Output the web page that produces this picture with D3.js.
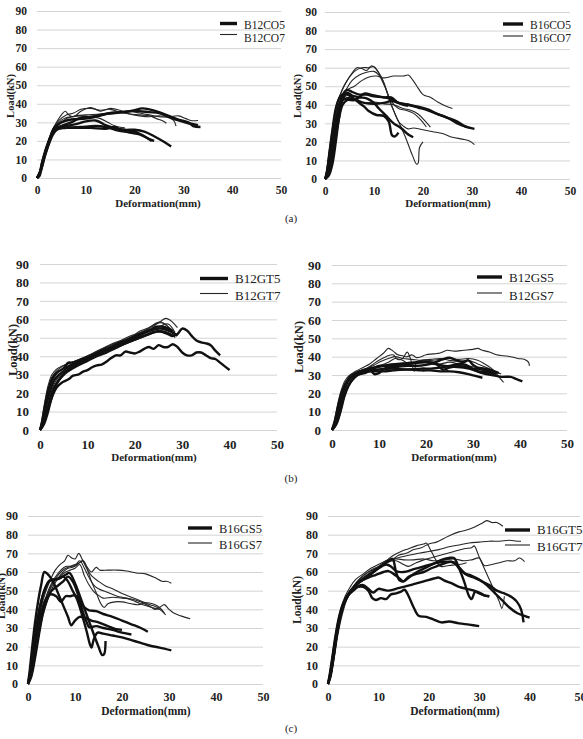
<!DOCTYPE html>
<html>
<head>
<meta charset="utf-8">
<script src="https://cdn.jsdelivr.net/npm/d3@7"></script>
<style>
  body { margin: 0; background: #fff; }
  svg { display: block; }
  text { font-family: "Liberation Serif", "Times New Roman", serif; fill: #222; }
</style>
</head>
<body>
<div id="fig"></div>
<script>
var xTicks = [0, 10, 20, 30, 40, 50];
var yTicks = [0, 10, 20, 30, 40, 50, 60, 70, 80, 90];
var captions = ["(a)", "(b)", "(c)"];

// (a) left : B12CO5 / B12CO7
var a1Names = ["B12CO5", "B12CO7"];
var a1Thick = [
  [[0,0],[0.6,3],[1.2,10],[2,17],[3,23],[4,26],[5,27],[8,27],[11,27],[14,26.5],[16,27.5],[17,26],[19,24.5],[21,23.5],[23,21],[24,20]],
  [[0,0],[0.5,2],[1,8],[2,16],[3,23],[4,27],[6,28],[8,29],[10,30.5],[12,31],[13,30],[14,28.5],[16,27],[18,26],[20,26],[22,25],[24,22.5],[26,19.5],[27.5,17]],
  [[0,0],[0.7,4],[1.5,12],[2.5,20],[3.5,27],[5,30],[7,31.5],[10,32],[12,33],[15,35],[18,35.5],[20,36.5],[21.5,37.5],[23,37],[25,35.5],[27,33.5],[29,31.5],[31,30],[32,28],[33.5,27.5]],
  [[0,0],[0.8,4],[1.6,12],[2.6,20],[3.5,26],[5,28],[7,30],[9,32.5],[11,33],[13,34],[16,35],[19,36],[21,36],[23,35.5],[25,35],[27,33],[29,31],[31,29.5],[33,28.5]],
  [[0,0],[0.5,1],[1,6],[2,15],[3,22],[4,26],[6,27],[9,27.5],[12,28],[14,27.5],[16,26],[18,25],[20,25],[22,22.5],[23.5,20]]
];
var a1Thin = [
  [[0,0],[0.5,3],[1.2,10],[2,18],[3,25],[4,30],[5,34],[5.8,36],[6.5,34],[7.5,33],[9,36],[11,38],[13,36],[15,37.5],[17,36.5],[19,34.5],[21,33.5],[23,33],[25,33.5],[27,33],[29,33.5],[30.5,32],[31.5,31],[33,31]],
  [[0,0],[0.6,3],[1.3,11],[2.2,19],[3.2,26],[4.5,31],[6,34],[7.5,35],[9,37],[11,37.5],[13,36.5],[15,37],[17,35.5],[19,34.5],[21,34],[23,33.5],[24.5,32],[26,30.5],[26.5,29.5]],
  [[0,0],[0.6,3],[1.3,10],[2.2,18],[3.2,25],[4.5,29],[6,32],[8,33.5],[10,34],[13,34.5],[16,35.5],[19,36],[21,35],[23,34],[25,33],[27,32.5],[28,31],[28.5,28]],
  [[0,0],[0.7,3],[1.5,11],[2.5,19],[3.5,26],[4.5,30],[5.5,32],[7,33],[9,33.5],[11,33],[13,32],[14.5,30],[16,28],[18,27]]
];

// (a) right : B16CO5 / B16CO7
var a2Names = ["B16CO5", "B16CO7"];
var a2Thick = [
  [[0,0],[0.5,3],[1,10],[1.8,22],[2.5,33],[3.2,42],[4,47],[4.5,48],[5.5,47],[7,45.5],[8.5,45.5],[10,44.5],[12,44],[13.5,43],[15,41],[17,40],[19,38.5],[21,37],[23,35],[25,33],[27,31],[28.5,28.5],[30.5,27]],
  [[0,0],[0.4,4],[0.9,14],[1.5,26],[2.2,38],[3,44],[4,46],[5,45],[6.5,42],[8,39],[9,36.5],[10.5,34.5],[12,34],[13,31],[13.7,23.5],[14.3,23],[15,25]],
  [[0,0],[0.8,2],[1.5,8],[2.2,20],[2.8,32],[3.5,42],[4.5,46.5],[5.5,45],[7,44],[8.5,43.5],[10,41],[11,38],[12.5,34],[14,30],[15.5,27.5],[17,24],[18,22.5]],
  [[0,0],[0.6,2],[1.2,9],[2,20],[2.8,32],[3.6,40],[4.5,42.5],[6,42.5],[7,44],[8,46],[10,45],[12,44],[13.5,44],[15,41],[17,40],[19,39],[21,37.5],[23,35],[25,33],[27,30],[29,28]],
  [[0,0],[0.5,3],[1,11],[1.7,23],[2.5,35],[3.3,42],[4.5,43.5],[6,43],[8,41],[10,40.5],[12,41],[13.5,42],[15,41],[16,40],[17,39.5]]
];
var a2Thin = [
  [[0,0],[0.4,6],[1,18],[1.8,32],[2.6,42],[3.5,48],[4.5,53],[5.5,57],[6.5,60],[7.5,59.5],[8.5,58.5],[9.5,61],[10.5,59],[11.5,55],[12.5,48],[13.5,40],[15,31],[16.5,22],[17.8,13],[18.7,8],[19,8.5],[19.3,17],[20,20]],
  [[0,0],[0.4,5],[1,16],[1.8,30],[2.6,41],[3.5,48],[4.5,53],[6,58],[7.5,60],[9,60],[10,60.5],[11,57],[12,52],[13,44],[14,37],[15,31],[16,28.5],[17,27],[18,27.5],[20,26.5],[22,25.5],[24,24.5],[26,22.5],[28,21.5],[29.5,20.5],[30.5,18.5]],
  [[0,0],[0.4,5],[1,16],[1.8,29],[2.6,39],[3.5,45],[4.5,48],[6,50],[7.5,53],[9,55],[10.5,55.5],[12,54.5],[14,55.5],[16,55.5],[17,56],[18,53],[19,49],[20,45.5],[21.5,44],[23,41.5],[24.5,39.5],[26,38]],
  [[0,0],[0.5,5],[1.1,15],[1.9,28],[2.7,38],[3.5,44],[4.5,49],[5.5,53],[7,56],[8.5,57.5],[10,58],[11,56],[12.5,48],[13.5,42],[15,38],[16.5,37],[18,35.5],[19.5,32],[20.7,28]],
  [[0,0],[0.5,4],[1.1,14],[1.9,27],[2.7,37],[3.5,43],[4.5,45],[6,43],[8,41],[10,41.5],[12,40.5],[14,40],[16,38],[17.5,37],[19,35],[20.5,31],[21.5,28]]
];

// (b) left : B12GT5 / B12GT7
var b1Names = ["B12GT5", "B12GT7"];
var b1Thick = [
  [[0,0],[0.6,3],[1.3,8],[2,14],[2.7,19],[3.5,23],[4.5,25.5],[6,27.5],[7,29.5],[8,30],[9,31.5],[10,32.5],[11,34],[12,35],[13,35.5],[14,37],[15,39],[16,40.5],[17,40.5],[18,42.5],[19,42],[20,41.5],[21,42.5],[22,44],[23,45],[24,44],[25,46],[26,45],[27,45],[28,46.5],[29,45],[30,42],[31,40.5],[32,40.5],[33,42],[34,42],[35,40.5],[36,39],[37,38.5],[38,36.5],[39,34.5],[40,32.5]],
  [[0,0],[0.5,4],[1.2,12],[2,20],[3,27],[4,30],[5,32],[6,34.5],[7,35.5],[8,37],[10,39],[12,41],[14,43],[16,45],[18,47],[20,49],[22,51],[23,52],[24,53],[25,53.5],[26,53],[27,52],[28,51],[29,52],[30,55],[31,54],[32,51],[33,48.5],[34,47.5],[35,47],[36,46],[37,43],[38,40.5]],
  [[0,0],[0.7,3],[1.5,10],[2.3,18],[3,23],[4,27],[5,30],[6,33],[8,36],[10,38.5],[12,41],[14,43.5],[16,45.5],[18,48],[20,50],[22,52.5],[24,54.5],[25.5,55],[27,54],[28.5,52],[29,51]],
  [[0,0],[0.5,5],[1.1,14],[1.8,22],[2.6,28],[3.5,31],[5,33.5],[6,36.5],[7,36.5],[9,38.5],[11,40.5],[13,43],[15,45],[17,47.5],[19,49.5],[21,52],[23,54],[24.5,56],[26,56],[27,55],[28,53.5]],
  [[0,0],[0.8,3],[1.6,9],[2.4,17],[3.3,24],[4.5,29],[6,32],[8,35],[10,37.5],[12,40],[14,42],[16,44.5],[18,47],[20,49],[22,51],[24,53],[25.5,53.5],[27,52.5],[28,51]]
];
var b1Thin = [
  [[0,0],[0.5,5],[1.1,14],[1.8,23],[2.6,29],[3.5,32],[5,35],[6.5,36.5],[8,38],[10,40],[12,42.5],[14,45],[16,47],[18,49],[20,51.5],[22,54],[24,56.5],[25.5,59],[26.5,60.5],[27.5,59.5],[28.5,57],[29,55.5]],
  [[0,0],[0.6,4],[1.3,13],[2,21],[2.9,28],[4,32],[5.5,34],[7,36],[9,38.5],[11,41],[13,43.5],[15,46],[17,48],[19,50],[21,53.5],[22.5,55],[24,57],[25,58],[26,58],[27,56],[28,52],[28.5,50]],
  [[0,0],[0.4,6],[1,15],[1.7,24],[2.5,30],[3.5,33],[5,35],[7,37],[9,39],[11,41.5],[13,44],[15,46.5],[17,48.5],[19,51],[21,52.5],[23,54],[24.5,55],[26,57],[27,57.5],[28,55],[28.5,52]],
  [[0,0],[0.7,4],[1.4,11],[2.2,19],[3,25],[4,29],[5.5,32],[7,34],[9,37],[11,40],[13,42.5],[15,45],[17,47],[19,49.5],[21,52],[23,55],[24.5,58],[25.5,58.5],[26.5,57],[27.5,55],[28.5,53]]
];

// (b) right : B12GS5 / B12GS7
var b2Names = ["B12GS5", "B12GS7"];
var b2Thick = [
  [[0,0],[0.7,4],[1.4,11],[2.2,19],[3,25],[4,28.5],[5,30.5],[6,32],[8,32.5],[10,33],[12,34],[14,34.5],[16,35],[18,35],[20,35.5],[22,37],[23.5,38.5],[25,39.5],[26.5,38],[28,37],[29,38],[30,35.5],[31,34],[32.5,33.5],[34,32.5],[35.5,31]],
  [[0,0],[0.8,3],[1.6,9],[2.4,17],[3.2,23],[4.2,27],[5.5,30],[7,31.5],[9,32],[11,32],[13,32.5],[15,33],[17,33],[19,32.5],[21,32.5],[23,32],[25,32],[27,31.5],[29,30.5],[30.5,29.5],[32,28.5]],
  [[0,0],[0.6,5],[1.3,13],[2,20],[3,26],[4,29],[5.5,30.5],[7,31],[8.5,33],[10,35],[12,35],[14,35.5],[16,36],[18,36.5],[20,37],[22,36],[24,35],[26,34.5],[28,34],[30,33],[32,31],[34,30],[36,29],[38,29],[39,28],[40.5,26.5]],
  [[0,0],[0.9,3],[1.8,10],[2.6,18],[3.5,24],[4.5,28],[5.5,30.5],[7,32.5],[8,33],[9,30.5],[10,31],[11,33],[13,33.5],[15,33],[17,33],[19,33.5],[21,33.5],[23,34],[25,35],[27,36],[28.5,35.5],[30,33.5],[32,33],[34,31.5],[35,30.5]],
  [[0,0],[0.7,4],[1.5,12],[2.3,20],[3.2,26],[4.5,30],[6,32],[8,33.5],[10,34.5],[12,35.5],[14,36],[16,36.5],[18,37],[20,37],[22,36.5],[23.5,33],[25,34],[27,35],[29,34],[31,32],[33,31.5],[34.5,30]]
];
var b2Thin = [
  [[0,0],[0.5,5],[1.2,14],[2,22],[2.8,27],[3.8,30],[5,32],[6.5,34],[8,36],[9.5,39],[11,42],[12,44.5],[13,43],[14,41],[15,40.5],[16,40],[17,41],[18,39.5],[19,40],[20,41],[21.5,41.5],[23,42],[24.5,43.5],[26,43],[28,43.5],[30,44],[31,44.5],[32,43.5],[33.5,42.5],[35,41],[36.5,40.5],[38,40],[39.5,39],[41,38.5],[41.8,37],[42,35]],
  [[0,0],[0.6,4],[1.3,12],[2.1,20],[3,26],[4,30],[5.5,32],[7,33],[8.5,35.5],[10,38],[11.5,40],[13,41],[14,38.5],[15,39],[16,42.5],[16.8,38],[17.5,32],[18,37],[19,38],[21,38.5],[23,39],[25,38],[27,37.5],[29,38],[31,36],[33,34],[34.5,32],[35.5,29],[36.5,26]],
  [[0,0],[0.8,3],[1.6,10],[2.4,18],[3.3,24],[4.3,28],[5.5,31],[7,33],[9,35.5],[10.5,37.5],[12,39],[13.5,40],[15,39],[17,38.5],[19,38],[21,38],[23,38.5],[25,39],[27,38.5],[29,39],[31,38],[32.5,36],[34,33.5],[35,31]],
  [[0,0],[0.5,4],[1.1,11],[1.9,19],[2.8,25],[3.8,29],[5,31],[6.5,33],[8,34],[10,35],[12,37],[13.5,39],[15,38],[16,36.5],[17,35],[19,35],[21,36],[23,36],[25,37],[27,36],[29,35],[31,34],[33,33],[35,31.5],[36,30.5]]
];

// (c) left : B16GS5 / B16GS7
var c1Names = ["B16GS5", "B16GS7"];
var c1Thick = [
  [[0,0],[0.4,8],[0.9,20],[1.5,33],[2.2,45],[2.8,53],[3.5,60],[4.5,58],[5.5,54],[6.5,48],[7.5,42],[8.5,36],[9.2,31.5],[10,34],[11,36],[12,35.5],[13.5,34],[15,33],[17,31],[18.5,29.5],[20,29]],
  [[0,0],[0.5,6],[1.1,18],[1.8,31],[2.6,42],[3.5,50],[4.5,55],[5.5,56],[6.5,56.5],[7.5,57.5],[8.5,55],[9.5,50],[10.5,45],[11.5,37],[12.5,28],[13.2,21],[13.5,19.5],[14,24],[14.8,27.5],[16,27],[18,26],[20,25],[22,23.5],[24,22],[26,20.5],[28,19.5],[30.5,18]],
  [[0,0],[0.6,5],[1.3,16],[2,28],[2.8,38],[3.7,45],[4.8,48],[6,47],[7,44],[8,47],[9,47],[10,47.5],[11,44.5],[12,41],[13,39.5],[14.5,39],[16,37.5],[18,36],[20,34],[22,32],[24,30],[25.5,28]],
  [[0,0],[0.5,7],[1.2,19],[1.9,32],[2.7,43],[3.6,51],[4.6,55.5],[6,56],[7,57],[8,58.5],[8.8,59.5],[10,54],[11.2,46],[12.5,37],[13.8,28],[15,20],[15.8,15.5],[16.2,16],[16.5,23]],
  [[0,0],[0.7,4],[1.5,14],[2.3,26],[3.1,37],[4,45],[5,50],[6,52],[7.5,55],[8.5,57.5],[9.5,55],[10.5,49],[11.5,40],[12.5,33],[13,30.5],[14.5,31],[16,30],[18,29],[20,27.5],[22,26.5]]
];
var c1Thin = [
  [[0,0],[0.5,6],[1.2,17],[2,30],[2.8,41],[3.7,49],[4.8,56],[5.8,61],[6.8,64],[7.8,66],[8.5,69],[9.3,67.5],[10,67],[10.8,70],[11.5,67],[12.5,62],[13.5,55],[14.5,49],[15.5,43],[16.2,41],[17,43],[18.5,44],[20,44],[22,43],[23.5,42.5],[25,43.5],[26.5,43],[28,41],[29,38]],
  [[0,0],[0.6,5],[1.3,16],[2.1,28],[3,39],[4,47],[5,53],[6,57],[7,60],[8,62],[9,63],[10,64],[11,65],[11.8,66],[12.5,63],[13.5,60],[14.5,62.5],[15.3,61],[17,61],[19,61],[21,60.5],[23,59.5],[25,59],[27,57],[28.5,55],[29.5,55],[30.5,54]],
  [[0,0],[0.7,4],[1.5,14],[2.3,26],[3.2,37],[4.2,45],[5.3,52],[6.5,57],[7.5,60],[8.5,62],[9.5,62.5],[10.5,64],[11.5,66],[12.5,62],[13.5,58],[15,55],[16.5,52.5],[18,51],[20,48.5],[22,46.5],[24,44.5],[26,42.5],[27.5,41],[28.5,39],[29.3,37]],
  [[0,0],[0.5,5],[1.2,15],[2,27],[2.9,38],[3.9,46],[5,52],[6,56],[7,58],[8,60],[9,61],[10,62],[11,64],[12,58],[13,53],[14,49.5],[15,47.5],[16,46],[18,46.5],[20,46],[22,45.5],[24,44],[26,41.5],[27,40],[28,41],[29,42.5],[30,40],[31,38],[32.5,36.5],[34.5,35]],
  [[0,0],[0.6,6],[1.4,18],[2.2,30],[3,40],[4,48],[5,54],[6,58],[7,61],[8,63],[9,63],[10,63.5],[11,66],[12,62],[13,57],[14,53],[15,51],[17,49],[19,47],[21,46],[23,44],[25,42],[27,40.5],[28,40]]
];

// (c) right : B16GT5 / B16GT7
var c2Names = ["B16GT5", "B16GT7"];
var c2Thick = [
  [[0,0],[0.4,6],[0.9,15],[1.5,26],[2.2,36],[3,43],[4,47.5],[5,50],[6,52],[7,52],[8,50],[8.8,46],[9.5,45],[10.5,46],[11.5,45.5],[12.5,48],[13.5,48.5],[14.5,49.5],[15.2,50.5],[16,47],[17,41],[18,36.5],[19.5,36],[21,34.5],[22.5,33],[24,33.5],[26,32.5],[28,31.8],[30,31]],
  [[0,0],[0.5,5],[1,14],[1.6,25],[2.3,35],[3.1,43],[4.1,48],[5,50.5],[6,52.5],[7,53],[8,51],[9,49],[10,51],[11,50.5],[12,50],[13.5,51],[15,52],[17,53.5],[19,55],[21,56.5],[22,57],[23,55.5],[24.5,54],[26,52],[27.5,51],[29,50],[30,48.5],[31,47.5],[32,47]],
  [[0,0],[0.5,4],[1.1,14],[1.7,26],[2.4,36],[3.2,44],[4.2,49],[5.2,52],[6.5,55],[8,57],[9.5,58.5],[11,60],[12,60.5],[13,59],[14,57],[15,55],[16,57.5],[17.5,59],[19,60],[20.5,62],[22,63.5],[23,64.5],[24.5,65.5],[25.5,64],[26.5,61],[27.5,58.5],[29,57],[30.5,55],[32,53],[33.5,50],[35,48.5],[36.5,46.5],[37.5,44],[38.3,40],[38.8,33]],
  [[0,0],[0.4,5],[0.9,13],[1.5,24],[2.2,34],[3,42],[4,47.5],[5,51.5],[6,54.5],[7,56],[8,58],[9,60],[10,62],[11,64],[12,66],[12.8,67],[13.5,60],[14.2,55.5],[15,55],[16.5,58],[18,60.5],[19.5,62.5],[21,64.5],[22.5,66.5],[24,67.5],[25,67.5],[26,62],[27,55],[28,47],[28.5,45.5],[29.2,49.5],[30,49],[31,47.5],[32,47]],
  [[0,0],[0.5,5],[1.1,15],[1.8,27],[2.5,37],[3.3,44],[4.3,49],[5.5,53],[7,56],[8.5,59],[10,62],[11.5,64],[12.5,63],[13.5,60.5],[15,60],[17,61.5],[19,63],[21,64.5],[23,65.5],[25,65],[26,62],[27,59.5],[28.5,58],[30,56],[31.5,53],[33,49],[34.5,45],[36,41],[37.5,38],[39,36.5],[40,35.5]]
];
var c2Thin = [
  [[0,0],[0.5,6],[1.1,16],[1.8,28],[2.6,38],[3.5,45],[4.5,50],[5.5,54],[6.5,57],[8,60],[9.5,62],[11,64],[12.5,66],[14,69],[15.5,70],[17,72],[18.5,73],[20,75],[21.5,76],[23,78],[24.5,80],[26,81.5],[27.5,82.5],[29,84],[30.5,86],[31.5,87.5],[32.5,86.5],[33.5,86.5],[34.7,84.5]],
  [[0,0],[0.6,5],[1.2,15],[1.9,27],[2.7,37],[3.6,45],[4.6,50],[5.6,54],[7,58],[8.5,61],[10,63],[11.5,66],[13,69],[14.5,71],[16,72.5],[17.5,74],[19,75],[19.5,75.5],[20.5,71],[21.5,66],[22.4,63],[24,63.5],[26,64],[27.5,65]],
  [[0,0],[0.4,7],[1,18],[1.7,30],[2.5,40],[3.4,47],[4.4,52],[5.5,56],[7,59],[8.5,62],[10,64],[11.5,66],[13,67],[14.5,68],[16,69],[18,70],[20,71],[22,72],[24,73.5],[26,74.5],[28,75.5],[30,76],[32,76.5],[34,76.5],[36,77],[37.5,76.5],[38.3,76.5]],
  [[0,0],[0.5,6],[1.2,17],[2,29],[2.8,39],[3.7,46],[4.7,51],[6,55],[7.5,58],[9,61],[10.5,63],[12,65.5],[13.5,66],[15,64],[16,63],[17.5,65],[19,66.5],[21,68],[23,69.5],[25,71],[27,72.5],[28.5,73],[29,74],[30,68],[31,62],[32,56],[33,50],[34,44],[34.5,40.5],[35,47]],
  [[0,0],[0.6,5],[1.3,15],[2,27],[2.8,37],[3.7,45],[4.7,50],[6,54],[7.5,58],[9,60],[10.5,63],[12,66],[13.5,67],[15,66.5],[17,66.5],[19,67],[21,66],[23,66.5],[25,67],[27,66],[28.5,66.5],[30,67.5],[31,63.5],[32.5,64],[34,65],[35.5,66],[37,66],[38,67.5],[39,65.5]]
];

// panel placement on the page
var panels = [
  {names: a1Names, thick: a1Thick, thin: a1Thin, x0: 37, x1: 281, y0: 178, y1: 11, tick: 11.5, xpad: 8, ypad: 10,
   leg: {x: 220, len: 17, ly: [23.5, 34.5], ty: [28.5, 42], fs: 11.5},
   ylab: {x: 10, y: 96, fs: 10.5}, xlab: {x: 158, y: 207, fs: 11}},
  {names: a2Names, thick: a2Thick, thin: a2Thin, x0: 325, x1: 570, y0: 179, y1: 12, tick: 11.5, xpad: 8, ypad: 8,
   leg: {x: 503, len: 20, ly: [24, 36], ty: [28.5, 42], fs: 11.5},
   ylab: {x: 297, y: 96, fs: 10.5}, xlab: {x: 448, y: 207, fs: 11}},
  {names: b1Names, thick: b1Thick, thin: b1Thin, x0: 40, x1: 277, y0: 430, y1: 264, tick: 13, xpad: 10, ypad: 11,
   leg: {x: 200, len: 28, ly: [278.5, 293.5], ty: [283, 300], fs: 13},
   ylab: {x: 13, y: 350, fs: 12.5}, xlab: {x: 154, y: 461, fs: 11}},
  {names: b2Names, thick: b2Thick, thin: b2Thin, x0: 332, x1: 567, y0: 430, y1: 265, tick: 13, xpad: 9, ypad: 11,
   leg: {x: 477, len: 25, ly: [277, 293], ty: [282, 300], fs: 13},
   ylab: {x: 299, y: 347, fs: 12.5}, xlab: {x: 454, y: 461, fs: 11}},
  {names: c1Names, thick: c1Thick, thin: c1Thin, x0: 28, x1: 263, y0: 684, y1: 516, tick: 12, xpad: 8, ypad: 10,
   leg: {x: 188, len: 24, ly: [528, 543], ty: [532.5, 549], fs: 12.5},
   ylab: {x: 1, y: 596, fs: 11}, xlab: {x: 146, y: 715, fs: 11.5}},
  {names: c2Names, thick: c2Thick, thin: c2Thin, x0: 328, x1: 580, y0: 684, y1: 516, tick: 12, xpad: 8, ypad: 10,
   leg: {x: 505, len: 25, ly: [530, 545], ty: [534, 551], fs: 13},
   ylab: {x: 297, y: 600, fs: 11.5}, xlab: {x: 455, y: 715, fs: 11.5}}
];
var capY = [222, 482, 732];

var svg = d3.select("#fig").append("svg").attr("width", 583).attr("height", 739);

panels.forEach(function(p) {
  var x = d3.scaleLinear().domain([0, 50]).range([p.x0, p.x1]);
  var y = d3.scaleLinear().domain([0, 90]).range([p.y0, p.y1]);
  var g = svg.append("g");

  g.selectAll("line.grid").data(yTicks).enter().append("line").attr("class", "grid")
    .attr("x1", x(0)).attr("x2", x(50))
    .attr("y1", function(d) { return y(d) + .5; }).attr("y2", function(d) { return y(d) + .5; })
    .attr("stroke", "#d4d4d4").attr("stroke-width", 1);

  var ax = g.append("g").attr("transform", "translate(0," + p.y0 + ")")
    .call(d3.axisBottom(x).tickValues(xTicks).tickSize(0).tickPadding(p.xpad));
  var ay = g.append("g").attr("transform", "translate(" + p.x0 + ",0)")
    .call(d3.axisLeft(y).tickValues(yTicks).tickSize(0).tickPadding(p.ypad));
  [ax, ay].forEach(function(a) {
    a.select(".domain").remove();
    a.selectAll("text").attr("font-family", '"Liberation Serif", serif').attr("font-weight", "bold")
      .attr("font-size", p.tick).attr("fill", "#222");
  });

  var line = d3.line().x(function(d) { return x(d[0]); }).y(function(d) { return y(d[1]); })
    .curve(d3.curveCatmullRom.alpha(0.5));

  g.selectAll("path.thin").data(p.thin).enter().append("path").attr("class", "thin")
    .attr("d", line).attr("fill", "none").attr("stroke", "#262626").attr("stroke-width", 1.1)
    .attr("stroke-linejoin", "round");
  g.selectAll("path.thick").data(p.thick).enter().append("path").attr("class", "thick")
    .attr("d", line).attr("fill", "none").attr("stroke", "#111").attr("stroke-width", 2.4)
    .attr("stroke-linejoin", "round");

  // legend
  p.names.forEach(function(n, i) {
    g.append("line").attr("x1", p.leg.x).attr("x2", p.leg.x + p.leg.len)
      .attr("y1", p.leg.ly[i]).attr("y2", p.leg.ly[i])
      .attr("stroke", i == 0 ? "#111" : "#262626").attr("stroke-width", i == 0 ? 3.4 : 1.1);
    g.append("text").attr("x", p.leg.x + p.leg.len + 7).attr("y", p.leg.ty[i])
      .attr("font-size", p.leg.fs).text(n);
  });

  g.append("text").attr("x", p.xlab.x).attr("y", p.xlab.y).attr("text-anchor", "middle")
    .attr("font-weight", "bold").attr("font-size", p.xlab.fs).text("Deformation(mm)");
  g.append("text").attr("transform", "translate(" + p.ylab.x + "," + p.ylab.y + ") rotate(-90)")
    .attr("dy", "0.35em").attr("text-anchor", "middle")
    .attr("font-weight", "bold").attr("font-size", p.ylab.fs).text("Load(kN)");
});

svg.selectAll("text.cap").data(captions).enter().append("text").attr("class", "cap")
  .attr("x", 291).attr("y", function(d, i) { return capY[i]; })
  .attr("text-anchor", "middle").attr("font-size", 11).text(function(d) { return d; });
</script>
</body>
</html>
